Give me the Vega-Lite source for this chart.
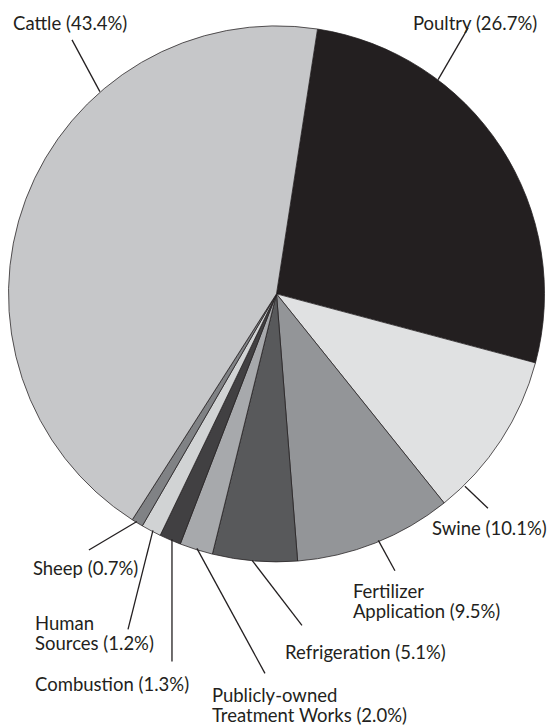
{
  "$schema": "https://vega.github.io/schema/vega-lite/v6.json",
  "width": 549,
  "height": 726,
  "padding": 0,
  "autosize": {"type": "fit", "contains": "padding"},
  "background": "white",
  "config": {"view": {"stroke": null}},
  "datasets": {
    "emissions": [
      {"category": "Poultry", "share": 26.7, "rank": 1},
      {"category": "Swine", "share": 10.1, "rank": 2},
      {"category": "Fertilizer Application", "share": 9.5, "rank": 3},
      {"category": "Refrigeration", "share": 5.1, "rank": 4},
      {"category": "Publicly-owned Treatment Works", "share": 2.0, "rank": 5},
      {"category": "Combustion", "share": 1.3, "rank": 6},
      {"category": "Human Sources", "share": 1.2, "rank": 7},
      {"category": "Sheep", "share": 0.7, "rank": 8},
      {"category": "Cattle", "share": 43.4, "rank": 9}
    ],
    "labels": [
      {"label": "Cattle (43.4%)", "tx": -0.983, "ty": 0.991, "x1": -0.659, "y1": 0.759, "x2": -0.763, "y2": 0.953},
      {"label": "Poultry (26.7%)", "tx": 0.509, "ty": 0.991, "x1": 0.603, "y1": 0.804, "x2": 0.715, "y2": 0.998},
      {"label": "Swine (10.1%)", "tx": 0.58, "ty": -0.905, "x1": 0.703, "y1": -0.722, "x2": 0.789, "y2": -0.804},
      {"label": "Fertilizer\nApplication (9.5%)", "tx": 0.285, "ty": -1.14, "x1": 0.38, "y1": -0.925, "x2": 0.442, "y2": -1.039},
      {"label": "Refrigeration (5.1%)", "tx": 0.032, "ty": -1.37, "x1": -0.091, "y1": -1.0, "x2": 0.095, "y2": -1.244},
      {"label": "Publicly-owned\nTreatment Works (2.0%)", "tx": -0.241, "ty": -1.53, "x1": -0.297, "y1": -0.955, "x2": -0.043, "y2": -1.424},
      {"label": "Combustion (1.3%)", "tx": -0.901, "ty": -1.49, "x1": -0.39, "y1": -0.921, "x2": -0.39, "y2": -1.379},
      {"label": "Human\nSources (1.2%)", "tx": -0.901, "ty": -1.26, "x1": -0.461, "y1": -0.887, "x2": -0.554, "y2": -1.259},
      {"label": "Sheep (0.7%)", "tx": -0.909, "ty": -1.055, "x1": -0.521, "y1": -0.854, "x2": -0.7, "y2": -0.961}
    ]
  },
  "layer": [
    {
      "data": {"name": "emissions"},
      "mark": {"type": "arc", "outerRadius": 268, "stroke": "#231f20", "strokeWidth": 0.75},
      "encoding": {
        "x": {"datum": 0, "type": "quantitative", "scale": {"domain": [-1.0317, 1.0168], "nice": false, "zero": false}, "axis": null},
        "y": {"datum": 0, "type": "quantitative", "scale": {"domain": [-1.6063, 1.1026], "nice": false, "zero": false}, "axis": null},
        "theta": {"field": "share", "type": "quantitative", "stack": true, "scale": {"range": [0.1536, 6.4368]}},
        "order": {"field": "rank", "type": "quantitative"},
        "color": {
          "field": "category", "type": "nominal", "legend": null,
          "scale": {
            "domain": ["Poultry", "Swine", "Fertilizer Application", "Refrigeration", "Publicly-owned Treatment Works", "Combustion", "Human Sources", "Sheep", "Cattle"],
            "range": ["#231f20", "#e0e1e2", "#939598", "#58595b", "#a7a9ac", "#414042", "#d1d3d4", "#808285", "#c6c7c9"]
          }
        }
      }
    },
    {
      "data": {"name": "labels"},
      "mark": {"type": "rule", "color": "#231f20", "strokeWidth": 1.3},
      "encoding": {
        "x": {"field": "x1", "type": "quantitative", "axis": null},
        "y": {"field": "y1", "type": "quantitative", "axis": null},
        "x2": {"field": "x2"},
        "y2": {"field": "y2"}
      }
    },
    {
      "data": {"name": "labels"},
      "mark": {"type": "text", "align": "left", "baseline": "alphabetic", "font": "Lato", "fontSize": 18.5, "color": "#231f20", "lineBreak": "\n", "lineHeight": 20.5},
      "encoding": {
        "x": {"field": "tx", "type": "quantitative", "axis": null},
        "y": {"field": "ty", "type": "quantitative", "axis": null},
        "text": {"field": "label", "type": "nominal"}
      }
    }
  ]
}
